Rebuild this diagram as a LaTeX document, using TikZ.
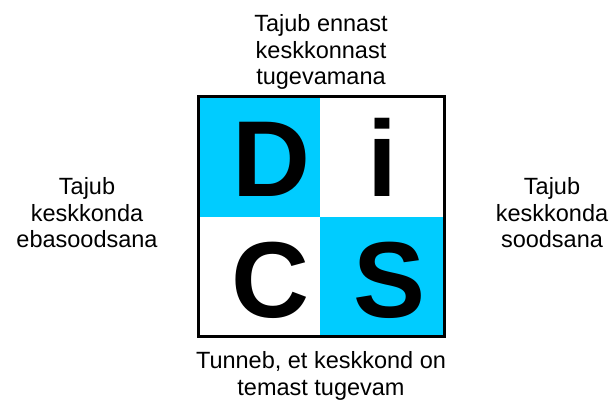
\documentclass[tikz,border=0pt]{standalone}
\usepackage{fontspec}
\setmainfont{Liberation Sans}
\definecolor{discyan}{HTML}{00CCFF}
\begin{document}
\begin{tikzpicture}[x=1pt,y=-1pt,
  lbl/.style={align=center,font=\fontsize{23.5}{26.5}\selectfont,inner sep=0pt},
  big/.style={font=\fontsize{108}{110}\selectfont\bfseries,inner sep=0pt,anchor=base}]
\useasboundingbox (0,0) rectangle (610,403);
\fill[discyan] (198,97) rectangle (320,217);
\fill[discyan] (320,217) rectangle (444,336);
\draw[line width=3pt] (198,97) rectangle (444,336);
\node[big] (d) at (271,197) {D};
\node[big] (i) at (382,197) {i};
\node[big] (c) at (270,317) {C};
\node[big] (s) at (390,317) {S};
\node[lbl] (top) at (321,52) {Tajub ennast\\keskkonnast\\tugevamana};
\node[lbl] (left) at (87,213) {Tajub\\keskkonda\\ebasoodsana};
\node[lbl] (right) at (552,213) {Tajub\\keskkonda\\soodsana};
\node[lbl] (bot) at (321,376) {Tunneb, et keskkond on\\temast tugevam};
\end{tikzpicture}
\end{document}
